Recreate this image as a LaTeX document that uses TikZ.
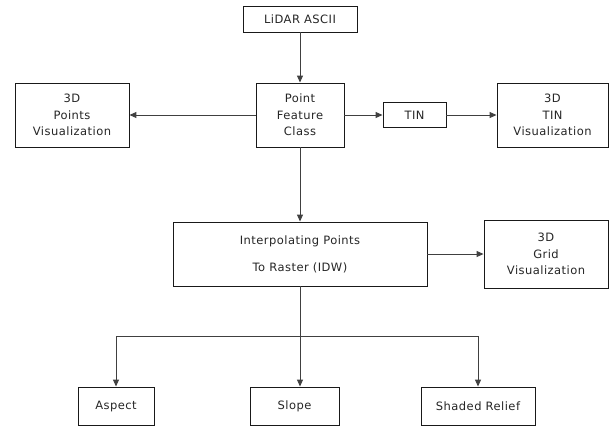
\documentclass[tikz,border=0pt]{standalone}
\usepackage{fontspec}
\setmainfont{DejaVu Sans}[LetterSpace=4]
\usetikzlibrary{arrows.meta}
\begin{document}
\begin{tikzpicture}[x=1pt,y=-1pt,
  box/.style={draw=black!90, line width=0.9pt, fill=white, align=center, inner sep=0pt,
    font=\fontsize{11.5}{16.5}\selectfont, text=black!85},
  conn/.style={draw=black!75, line width=1pt, -{Triangle[length=7pt,width=6pt]}},
  plain/.style={draw=black!75, line width=1pt}]
\useasboundingbox (0,0) rectangle (609,426);
\node[box, minimum width=114pt, minimum height=26pt] (lidar) at (300,19) {LiDAR ASCII};
\node[box, minimum width=114pt, minimum height=64pt] (pts) at (72,115) {3D\\Points\\Visualization};
\node[box, minimum width=88pt, minimum height=64pt] (pfc) at (300,115) {Point\\Feature\\Class};
\node[box, minimum width=63pt, minimum height=25pt] (tin) at (414.5,115) {TIN};
\node[box, minimum width=111pt, minimum height=64pt] (tin3d) at (552.5,115) {3D\\TIN\\Visualization};
\node[box, minimum width=254pt, minimum height=64pt, font=\fontsize{11.5}{27}\selectfont] (interp) at (300,254) {Interpolating Points\\To Raster (IDW)};
\node[box, minimum width=124pt, minimum height=68pt] (grid) at (546,254) {3D\\Grid\\Visualization};
\node[box, minimum width=76pt, minimum height=38pt] (aspect) at (116,406) {Aspect};
\node[box, minimum width=89pt, minimum height=38pt] (slope) at (294.5,406) {Slope};
\node[box, minimum width=114pt, minimum height=38pt] (shaded) at (478,406) {Shaded Relief};
\coordinate (br) at (300,336);
\draw[conn] (lidar) -- (pfc);
\draw[conn] (pfc) -- (pts);
\draw[conn] (pfc) -- (tin);
\draw[conn] (tin) -- (tin3d);
\draw[conn] (pfc) -- (interp);
\draw[conn] (interp.east) -- (grid.west |- interp.east);
\draw[plain] (interp.south) -- (br);
\draw[conn] (br) -| (aspect.north);
\draw[conn] (br) -| (shaded.north);
\draw[conn] (br) -- (br |- slope.north);
\end{tikzpicture}
\end{document}
